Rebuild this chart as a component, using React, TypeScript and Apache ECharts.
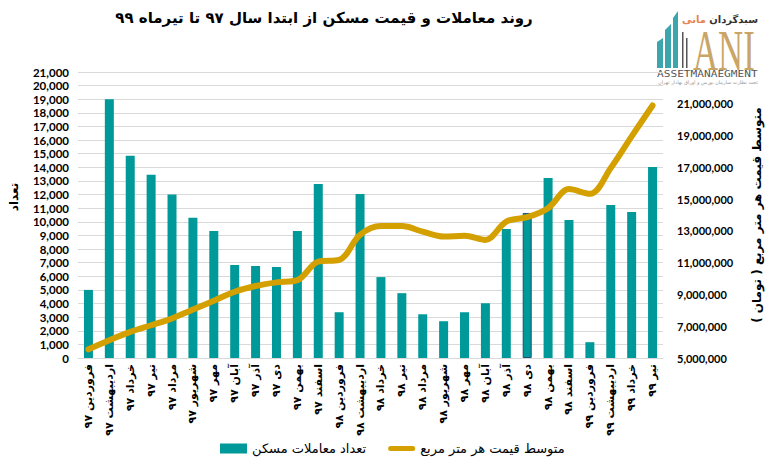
import React, { useEffect, useRef } from 'react';
import * as echarts from 'echarts';

// ماه‌ها از فروردین ۹۷ تا تیر ۹۹
const categories = [
  'فروردین ۹۷', 'اردیبهشت ۹۷', 'خرداد ۹۷', 'تیر ۹۷', 'مرداد ۹۷', 'شهریور ۹۷',
  'مهر ۹۷', 'آبان ۹۷', 'آذر ۹۷', 'دی ۹۷', 'بهمن ۹۷', 'اسفند ۹۷',
  'فروردین ۹۸', 'اردیبهشت ۹۸', 'خرداد ۹۸', 'تیر ۹۸', 'مرداد ۹۸', 'شهریور ۹۸',
  'مهر ۹۸', 'آبان ۹۸', 'آذر ۹۸', 'دی ۹۸', 'بهمن ۹۸', 'اسفند ۹۸',
  'فروردین ۹۹', 'اردیبهشت ۹۹', 'خرداد ۹۹', 'تیر ۹۹',
];

// تعداد معاملات مسکن
const transactions = [
  5000, 19000, 14850, 13450, 12000, 10300,
  9330, 6820, 6750, 6680, 9330, 12780,
  3360, 12040, 5940, 4760, 3210, 2700,
  3360, 4020, 9470, 10650, 13220, 10130,
  1160, 11240, 10720, 14030,
];

// متوسط قیمت هر متر مربع (تومان)
const avgPrice = [
  5550000, 6120000, 6640000, 7060000, 7490000, 8050000,
  8600000, 9170000, 9530000, 9760000, 9900000, 11060000,
  11170000, 12750000, 13300000, 13300000, 12950000, 12640000,
  12700000, 12430000, 13590000, 13860000, 14430000, 15630000,
  15330000, 16960000, 18950000, 20890000,
];

// محدوده محورها: [min, max, interval]
const countAxis = [0, 21000, 1000];
const priceAxis = [5000000, 23000000, 2000000];

// ستونی که در نمودار اصلی انتخاب شده (حاشیه آبی)
const selectedIndex = 21;

const BAR_NAME = 'تعداد معاملات مسکن';
const LINE_NAME = 'متوسط قیمت هر متر مربع';
const FONT = "Lato, 'DejaVu Sans', sans-serif";
const FA_FONT = "'DejaVu Sans', sans-serif";

const App = () => {
  const chartRef = useRef<HTMLDivElement>(null);

  useEffect(() => {
    if (!chartRef.current) return;
    const chart = echarts.init(chartRef.current, null, { renderer: 'svg' });

    const fmt = (v: number) => v.toLocaleString('en-US');

    const option = {
      animation: false,
      textStyle: { fontFamily: FONT },
      grid: { left: 72, right: 110, top: 72, bottom: 109 },
      legend: {
        left: 215,
        top: 437,
        itemWidth: 27,
        itemHeight: 10,
        itemGap: 22,
        textStyle: { fontSize: 13, color: '#000', fontFamily: FA_FONT },
        data: [
          { name: BAR_NAME, icon: 'rect' },
          { name: LINE_NAME, icon: 'path://M3,0 L29,0 A3,3 0 0 1 29,6 L3,6 A3,3 0 0 1 3,0 Z' },
        ],
      },
      xAxis: {
        type: 'category',
        data: categories,
        axisLine: { lineStyle: { color: '#d9d9d9' } },
        axisTick: { show: false },
        axisLabel: {
          interval: 0,
          rotate: 90,
          margin: 6,
          fontSize: 11,
          fontWeight: 'bold',
          color: '#000',
          fontFamily: FA_FONT,
        },
      },
      yAxis: [
        {
          type: 'value',
          min: countAxis[0],
          max: countAxis[1],
          interval: countAxis[2],
          name: 'تعداد',
          nameLocation: 'middle',
          nameRotate: 90,
          nameGap: 58,
          nameTextStyle: { fontSize: 12, fontWeight: 'bold', color: '#000', padding: [0, 0, 0, 36], fontFamily: FA_FONT },
          axisLine: { show: false },
          axisTick: { show: false },
          axisLabel: { fontSize: 11.5, fontWeight: 'bold', color: '#000', margin: 9, formatter: fmt },
          splitLine: { lineStyle: { color: '#d9d9d9' } },
        },
        {
          type: 'value',
          min: priceAxis[0],
          max: priceAxis[1],
          interval: priceAxis[2],
          name: 'متوسط قیمت هر متر مربع ( تومان )',
          nameLocation: 'middle',
          nameRotate: 90,
          nameGap: 88,
          nameTextStyle: { fontSize: 12, fontWeight: 'bold', color: '#000', fontFamily: FA_FONT },
          axisLine: { show: false },
          axisTick: { show: false },
          axisLabel: { fontSize: 11, fontWeight: 'bold', color: '#000', margin: 14, showMaxLabel: false, formatter: fmt },
          splitLine: { show: false },
        },
      ],
      series: [
        {
          name: BAR_NAME,
          type: 'bar',
          barWidth: 9,
          itemStyle: { color: '#009999' },
          data: transactions.map((v, i) =>
            i === selectedIndex
              ? { value: v, itemStyle: { borderColor: '#1f4e79', borderWidth: 1 } }
              : v
          ),
        },
        {
          name: LINE_NAME,
          type: 'line',
          yAxisIndex: 1,
          smooth: 0.35,
          symbol: 'none',
          itemStyle: { color: '#d4a000' },
          lineStyle: { color: '#d4a000', width: 6, cap: 'round' },
          data: avgPrice,
        },
      ],
      graphic: [
        // عنوان
        {
          type: 'text', x: 324, y: 18,
          style: {
            text: 'روند معاملات و قیمت مسکن از ابتدا سال ۹۷ تا تیرماه ۹۹',
            align: 'center', verticalAlign: 'middle', fill: '#000',
            font: `bold 15px ${FA_FONT}`,
          },
        },
        // لوگوی سبدگردان مانی
        { type: 'polygon', shape: { points: [[657, 42], [663, 38], [663, 68], [657, 68]] }, style: { fill: '#3ba6ae' } },
        { type: 'polygon', shape: { points: [[665, 30], [671, 24], [671, 68], [665, 68]] }, style: { fill: '#3ba6ae' } },
        { type: 'polygon', shape: { points: [[673, 18], [678, 11], [678, 68], [673, 68]] }, style: { fill: '#3ba6ae' } },
        { type: 'rect', shape: { x: 682, y: 32, width: 1.5, height: 36 }, style: { fill: '#555' } },
        { type: 'rect', shape: { x: 686, y: 38, width: 1.5, height: 30 }, style: { fill: '#555' } },
        {
          type: 'text', x: 758, y: 19,
          style: {
            text: '{b|مانی} {a|سبدگردان}',
            align: 'right', verticalAlign: 'middle',
            rich: {
              a: { fill: '#333', font: `bold 10px ${FA_FONT}` },
              b: { fill: '#e9824f', font: `bold 10px ${FA_FONT}` },
            },
          },
        },
        {
          type: 'text', x: 693, y: 51, scaleX: 0.62,
          style: { text: 'ANI', align: 'left', verticalAlign: 'middle', fill: '#c9a567', font: "56px 'Liberation Serif'" },
        },
        {
          type: 'text', x: 657, y: 74, scaleX: 1.24,
          style: { text: 'ASSETMANAEGMENT', align: 'left', verticalAlign: 'middle', fill: '#555', font: "9px 'DejaVu Sans Mono'" },
        },
        {
          type: 'text', x: 758, y: 82,
          style: { text: 'تحت نظارت سازمان بورس و اوراق بهادار تهران', align: 'right', verticalAlign: 'middle', fill: '#999', font: `5px ${FA_FONT}` },
        },
      ],
    };

    chart.setOption(option as any);

    return () => {
      chart.dispose();
    };
  }, []);

  return (
    <div
      ref={chartRef}
      style={{ position: 'absolute', left: 0, top: 0, width: 773, height: 467, background: '#fff' }}
    ></div>
  );
};

export default App;
